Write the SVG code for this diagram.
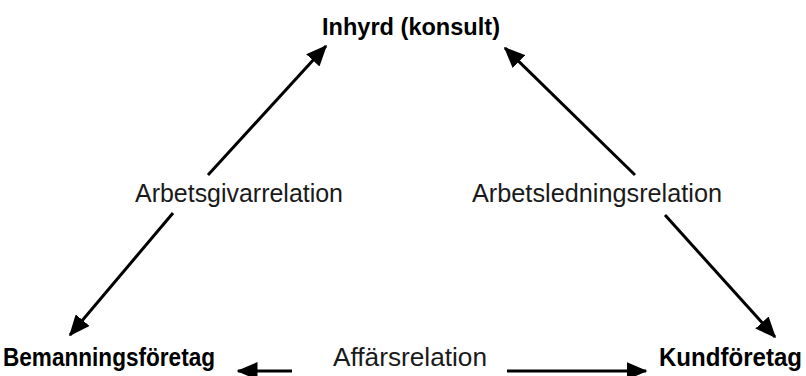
<svg xmlns="http://www.w3.org/2000/svg" width="806" height="376" viewBox="0 0 806 376">
<defs>
<style>
.node{font-family:"Liberation Sans",Arial,sans-serif;font-weight:bold;font-size:25px;fill:#000}
.lbl{font-family:"Liberation Sans",Arial,sans-serif;font-size:26px;fill:#1a1a1a}
.ca{stroke:#000;stroke-width:3;fill:none;marker-end:url(#ah)}
</style>
<marker id="ah" markerWidth="7" markerHeight="6" refX="6.5" refY="3" orient="auto" markerUnits="strokeWidth">
<path d="M0,0 L7,3 L0,6 Z" fill="#000"/>
</marker>
</defs>
<rect width="806" height="376" fill="#fff"/>
<g id="inhyrd"><text class="node" x="322" y="35" textLength="178" lengthAdjust="spacingAndGlyphs" style="font-size:24px">Inhyrd (konsult)</text></g>
<g id="bemanning"><text class="node" x="3" y="366" textLength="212" lengthAdjust="spacingAndGlyphs">Bemanningsföretag</text></g>
<g id="kund"><text class="node" x="659" y="366" textLength="143" lengthAdjust="spacingAndGlyphs">Kundföretag</text></g>
<g id="connectors">
<line class="ca" x1="208" y1="175" x2="326" y2="46"/>
<line class="ca" x1="173" y1="213" x2="70" y2="335"/>
<line class="ca" x1="635" y1="175" x2="505" y2="48"/>
<line class="ca" x1="665" y1="215" x2="775" y2="337"/>
<line class="ca" x1="292" y1="371" x2="238" y2="371"/>
<line class="ca" x1="507" y1="371" x2="646" y2="371"/>
<text class="lbl" x="135" y="202" textLength="208" lengthAdjust="spacingAndGlyphs">Arbetsgivarrelation</text>
<text class="lbl" x="472" y="202" textLength="250" lengthAdjust="spacingAndGlyphs">Arbetsledningsrelation</text>
<text class="lbl" x="333" y="366" textLength="154" lengthAdjust="spacingAndGlyphs">Affärsrelation</text>
</g>
</svg>
